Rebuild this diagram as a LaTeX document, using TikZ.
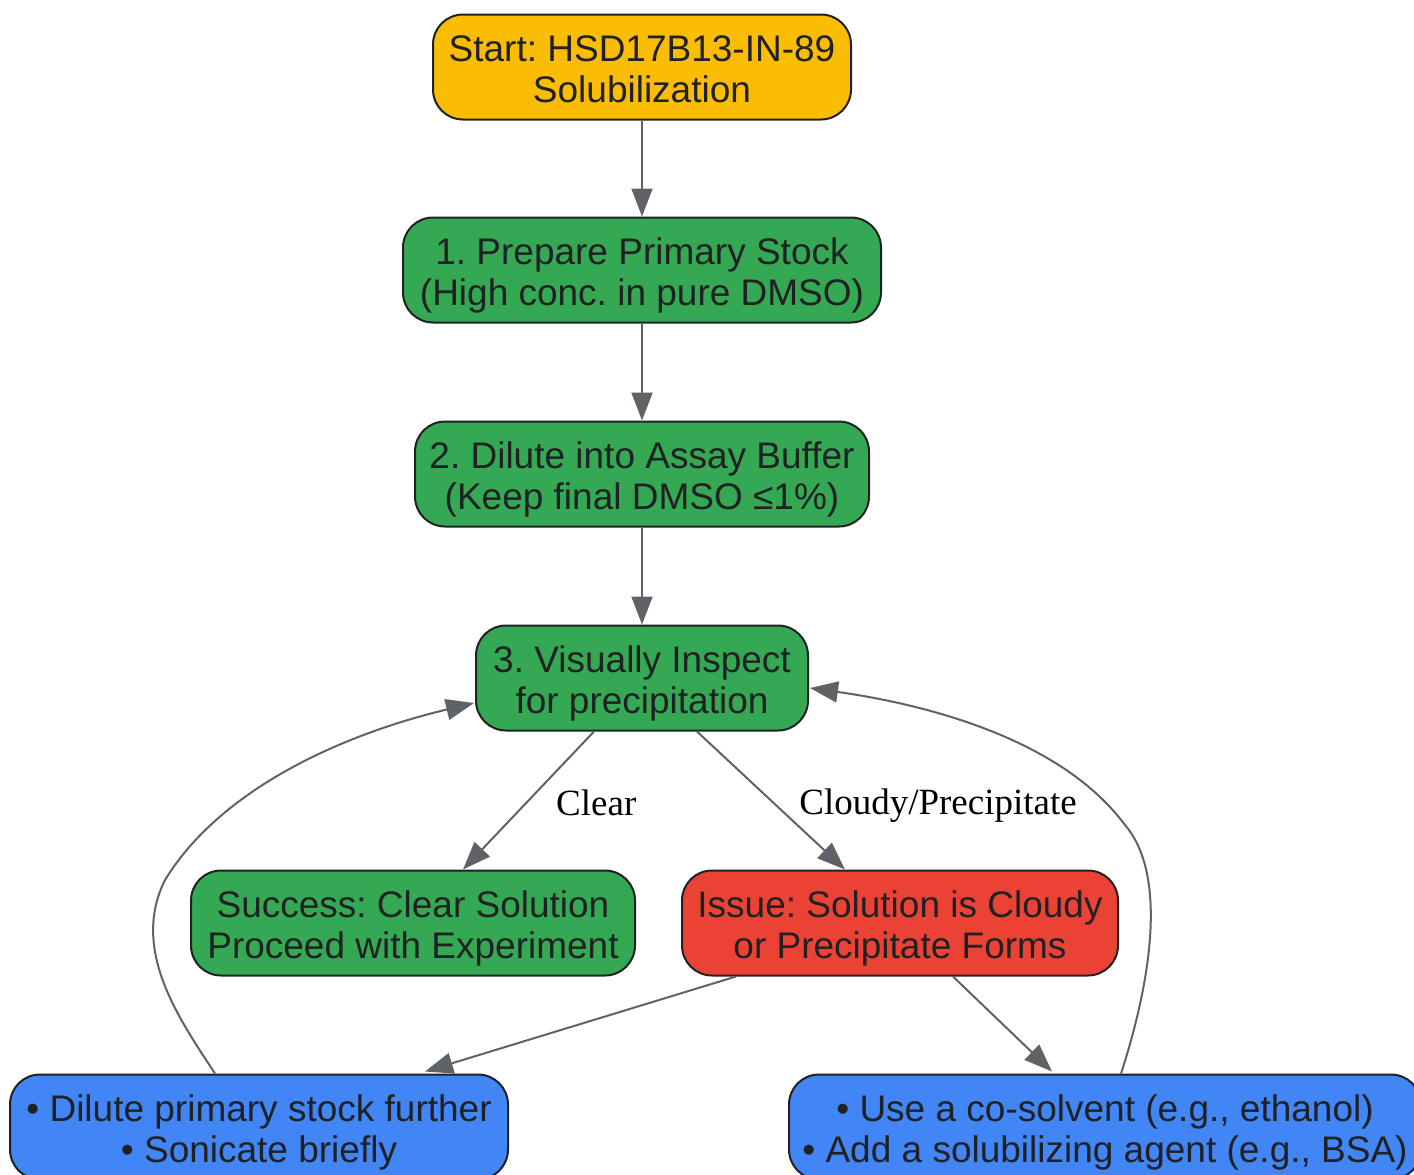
\documentclass[tikz,border=0pt]{standalone}
\usepackage{fontspec}
\setmainfont{Liberation Sans}
\newfontfamily\lblfont{Liberation Serif}
\frenchspacing
\usetikzlibrary{arrows.meta,calc}
\definecolor{cyellow}{HTML}{FBBC04}
\definecolor{cgreen}{HTML}{34A853}
\definecolor{cred}{HTML}{EA4335}
\definecolor{cblue}{HTML}{4285F4}
\definecolor{cdark}{HTML}{202124}
\definecolor{cedge}{HTML}{5F6368}
\tikzset{
  box/.style={draw=cdark, line width=2pt, rounded corners=30pt, align=center,
    minimum height=105pt, inner sep=0pt, text=cdark,
    font=\fontsize{37}{41.5}\selectfont\frenchspacing,
    text height=71pt, text depth=0pt},
  conn/.style={draw=cedge, line width=2pt, -{Triangle[length=28pt,width=21pt]}},
  lbl/.style={font=\lblfont\fontsize{37}{42}\selectfont, text=black}
}
\begin{document}
\begin{tikzpicture}[x=1pt,y=-1pt]
\useasboundingbox (0,0) rectangle (1414,1175);
\node[box, fill=cyellow, minimum width=418pt] (start) at (642,67) {Start: HSD17B13-IN-89\\Solubilization};
\node[box, fill=cgreen, minimum width=478pt] (prep) at (642,270) {1. Prepare Primary Stock\\(High conc. in pure DMSO)};
\node[box, fill=cgreen, minimum width=454pt] (dil) at (642,474) {2. Dilute into Assay Buffer\\(Keep final DMSO ≤1\%)};
\node[box, fill=cgreen, minimum width=332pt] (insp) at (642,678) {3. Visually Inspect\\for precipitation};
\node[box, fill=cgreen, minimum width=444pt] (succ) at (413,923) {Success: Clear Solution\\Proceed with Experiment};
\node[box, fill=cred, minimum width=436pt] (issue) at (900,923) {Issue: Solution is Cloudy\\or Precipitate Forms};
\node[box, fill=cblue, minimum width=498pt] (b1) at (259,1127) {• Dilute primary stock further\\• Sonicate briefly};
\node[box, fill=cblue, minimum width=632pt] (b2) at (1105,1127) {• Use a co-solvent (e.g., ethanol)\\• Add a solubilizing agent (e.g., BSA)};

\draw[conn] (start) -- (prep);
\draw[conn] (prep) -- (dil);
\draw[conn] (dil) -- (insp);
\draw[conn] ($(insp.south)+(-48,0)$) -- ($(succ.north)+(50,0)$) node[lbl, pos=0.52, right=26pt] {Clear};
\draw[conn] ($(insp.south)+(55,0)$) -- ($(issue.north)+(-55,0)$) node[lbl, pos=0.5, right=24pt, yshift=-5pt] {Cloudy/Precipitate};
\draw[conn] ($(issue.south)+(-164,0)$) -- ($(b1.north)+(166,-2)$);
\draw[conn] ($(issue.south)+(53,0)$) -- ($(b2.north)+(-53,-2)$);
\draw[conn] ($(b1.north)+(-44,0)$) .. controls (180,1020) and (130,950) .. (165,880)
  .. controls (220,790) and (340,735) .. ($(insp.west)+(-1,25)$);
\draw[conn] ($(b2.north)+(16,0)$) .. controls (1145,1000) and (1172,880) .. (1125,825)
  .. controls (1062,740) and (930,705) .. ($(insp.east)+(1,10)$);
\end{tikzpicture}
\end{document}
